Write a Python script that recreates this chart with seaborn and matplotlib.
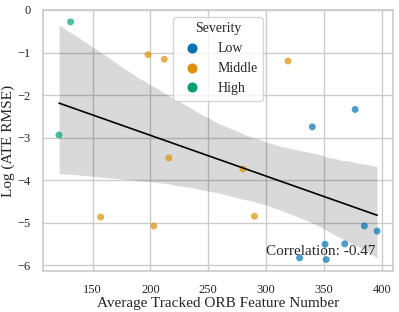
import numpy as np
import pandas as pd
import seaborn as sns
import matplotlib
matplotlib.use("Agg")
import matplotlib.pyplot as plt

features = [131, 121, 198, 212, 319, 216, 157, 203, 280, 290,
            377, 340, 385, 396, 351, 368, 329, 352]
log_rmse = [-0.28, -2.94, -1.05, -1.16, -1.20, -3.48, -4.87, -5.08, -3.74, -4.85,
            -2.34, -2.75, -5.08, -5.20, -5.51, -5.50, -5.83, -5.87]
severity = ["High", "High", "Middle", "Middle", "Middle", "Middle", "Middle", "Middle", "Middle", "Middle",
            "Low", "Low", "Low", "Low", "Low", "Low", "Low", "Low"]
order = ["Low", "Middle", "High"]

df = pd.DataFrame({"x": features, "y": log_rmse, "Severity": severity})

sns.set_theme(style="whitegrid")
plt.rcParams["font.family"] = ["Liberation Serif", "DejaVu Serif"]

fig, ax = plt.subplots(figsize=(3.99, 3.12), dpi=100)
palette = sns.color_palette("colorblind", 3)

sns.regplot(data=df, x="x", y="y", scatter=False, color="black", ax=ax,
            line_kws={"linewidth": 1.2})
sns.scatterplot(data=df, x="x", y="y", hue="Severity", hue_order=order,
                palette=palette, s=25, alpha=0.7, edgecolor="none", ax=ax)

r = np.corrcoef(df["x"], df["y"])[0, 1]
ax.text(0.95, 0.052, f"Correlation: {r:.2f}", transform=ax.transAxes,
        ha="right", va="bottom", fontsize=11)

ax.set_xlabel("Average Tracked ORB Feature Number", fontsize=11, labelpad=1)
ax.set_ylabel("Log (ATE RMSE)", fontsize=11, labelpad=2)
ax.tick_params(axis="x", labelsize=9, pad=3)
ax.tick_params(axis="y", labelsize=9, pad=3)
ax.set_xticks([150, 200, 250, 300, 350, 400])
ax.set_yticks([0, -1, -2, -3, -4, -5, -6])

leg = ax.legend(title="Severity", loc="upper center", fontsize=10,
                title_fontsize=10, markerscale=1.45)
for h in leg.legend_handles:
    h.set_alpha(1)

fig.subplots_adjust(left=0.108, right=0.985, top=0.968, bottom=0.13)
fig.savefig("out.png", dpi=100)
